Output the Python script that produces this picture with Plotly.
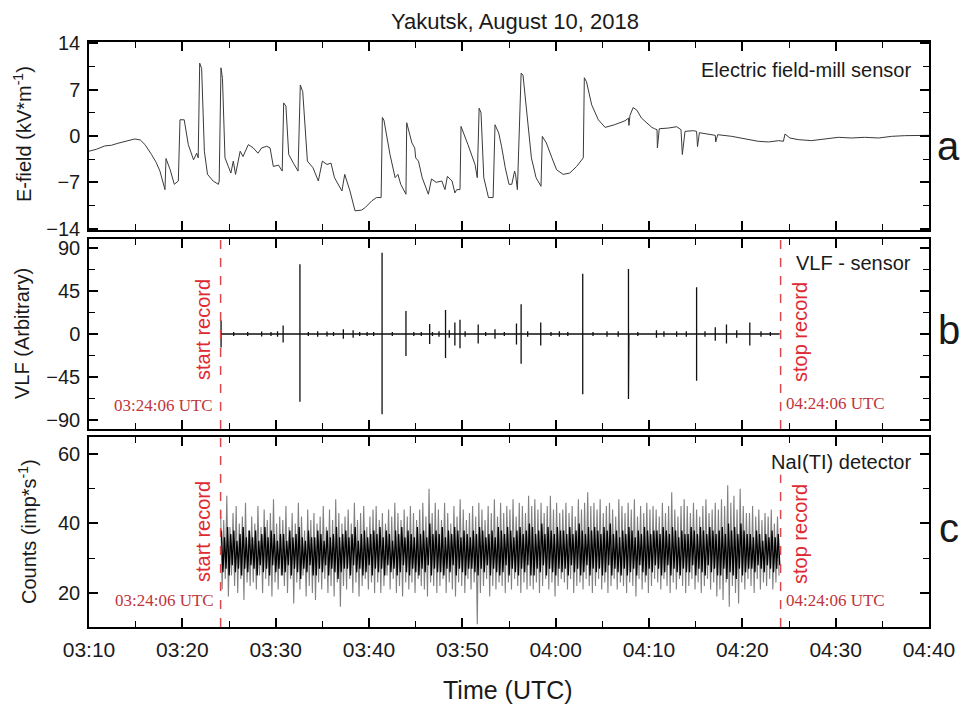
import pandas as pd
import plotly.graph_objects as go

# ---------------- data (minutes after 03:10 UTC) ----------------
efield_min = [0.0, 0.8, 1.7, 2.4, 3.1, 4.0, 4.9, 5.5, 6.0, 6.7, 7.2, 7.6, 8.14, 8.25, 8.7, 9.14, 9.57,
              9.75, 10.2, 10.64, 11.2, 11.54, 11.7, 11.86, 12.07, 12.36, 12.7, 13.3, 13.86, 13.95,
              14.14, 14.3, 14.57, 14.93, 15.2, 15.46, 15.7, 16.2, 16.5, 17.07, 17.6, 18.1, 18.5, 19.04,
              19.4, 19.75, 20.3, 20.7, 20.86, 21.1, 21.4, 21.9, 22.4, 22.64, 22.9, 23.4, 24.0, 24.57,
              25.0, 25.5, 25.93, 26.3, 27.1, 27.4, 27.96, 28.5, 29.2, 29.6, 30.3, 30.8, 31.3, 31.43,
              31.6, 32.25, 32.8, 33.1, 33.4, 33.96, 34.04, 34.6, 34.9, 35.0, 35.3, 35.7, 36.36, 36.7,
              37.2, 37.8, 38.14, 38.4, 38.9, 39.2, 39.4, 39.75, 39.86, 40.6, 41.36, 41.6, 41.8, 42.0,
              42.3, 42.8, 43.3, 43.5, 43.9, 44.2, 44.6, 45.0, 45.3, 45.6, 45.7, 45.9, 46.3, 46.5, 47.0,
              47.4, 47.9, 48.43, 48.57, 49.0, 49.6, 50.1, 50.8, 51.5, 52.25, 52.96, 53.07, 53.3, 53.86,
              54.57, 55.3, 56.3, 57.43, 57.8, 57.85, 57.96, 58.3, 58.7, 59.2, 59.9, 60.3, 60.6, 60.86,
              60.9, 61.1, 62.07, 62.97, 63.43, 63.57, 63.86, 64.75, 65.1, 65.2, 65.4, 66.7, 67.1,
              67.15, 67.36, 68.86, 70.3, 71.7, 72.8, 73.9, 74.4, 74.57, 75.1, 76.0, 77.4, 78.9, 80.3,
              81.7, 83.1, 84.6, 86.0, 87.4, 88.86, 90.0]
efield_val = [-2.3, -2.0, -1.5, -1.4, -1.1, -0.8, -0.45, -0.6, -1.3, -2.8, -4.0, -5.3, -8.1, -3.4, -5.1,
              -7.3, -6.8, 2.45, 2.45, -1.3, -3.6, -2.6, -3.3, 11.0, 10.2, -2.3, -5.8, -6.8, -7.3, -6.8,
              10.3, 8.7, -3.3, -4.6, -5.6, -3.8, -5.8, -2.3, -3.1, -1.3, -1.8, -2.6, -1.8, -1.55,
              -1.8, -4.6, -4.4, -5.3, 5.0, 4.5, -2.8, -4.1, -5.3, 7.7, 6.7, -3.8, -4.8, -6.8,
              -3.8, -4.3, -4.1, -6.3, -8.3, -5.8, -8.3, -11.3, -11.2, -10.8, -9.8, -9.3, -9.3, 2.8,
              2.4, -2.8, -6.3, -5.8, -7.3, -8.8, 2.0, -1.05, -1.8, -3.3, -3.8, -6.3, -8.8, -6.5,
              -7.0, -6.8, -8.1, -6.1, -6.8, -8.6, -8.1, -8.1, 1.45, -1.3, -4.3, -6.3, 4.2, 3.5,
              -6.3, -9.3, -9.3, 1.7, 0.45, -1.55, -4.8, -7.3, -7.3, -5.3, -5.8, -8.1, 9.5, 9.2, 1.7,
              -3.3, -6.3, -7.6, -0.05, -1.05, -3.3, -5.1, -5.8, -5.6, -4.6, -3.3, 8.8, 8.2, 4.7,
              2.45, 1.3, 1.7, 2.3, 2.7, 1.6, 3.1, 4.3, 3.9, 2.7, 1.8, 1.3, 1.1, 0.95,
              -1.8, 1.1, 1.2, 1.4, 0.95, -2.8, 0.7, 0.8, 0.7, -1.6, 0.5, 0.2, 0.1,
              -0.9, 0.2, -0.05, -0.4, -0.8, -0.9, -0.7, -0.8, 0.3, -0.3, -0.55, -0.7, -0.4, -0.2,
              -0.3, -0.2, -0.3, -0.05, 0.05, 0.05, 0.1]

vlf_min = [14.15, 15.5, 17.0, 18.5, 19.5, 20.2, 20.8, 22.6, 23.5, 24.5, 25.5, 26.2, 27.25, 28.3, 29.0,
           29.8, 30.5, 31.4, 32.5, 33.96, 34.8, 35.6, 36.5, 36.8, 37.5, 38.2, 38.6, 39.2, 39.75, 40.3,
           41.7, 42.5, 43.5, 44.5, 45.8, 46.3, 47.0, 48.4, 49.5, 50.4, 51.3, 52.9, 54.0, 55.5, 56.7,
           57.8, 57.85, 58.8, 60.8, 61.6, 62.96, 64.0, 65.1, 66.0, 67.1, 68.3, 69.4, 70.8, 72.0, 73.0]
vlf_top = [14, 2, 2, 2.5, 2, 3, 9, 73, 2, 3, 2.5, 2, 5, 4, 2, 2, 2, 85, 2, 24, 2, 2, 10.5, 2, 3, 25,
           4, 12, 15, 3, 10, 2, 5, 2, 11, 31, 3, 12, 2, 3, 2, 63, 2, 3, 3, 68, 35, 2, 4, 3, 3, 3, 49,
           3, 7, 10, 4, 12, 3, 2]
vlf_bot = [-14, -2, -2, -2.5, -2, -3, -9, -71, -2, -3, -2.5, -2, -5, -4, -2, -2, -2, -84, -2, -23, -2,
           -2, -10.5, -2, -3, -25, -4, -12, -15, -3, -10, -2, -5, -2, -11, -31, -3, -12, -2, -3, -2,
           -63, -2, -3, -3, -68, -35, -2, -4, -3, -3, -3, -49, -3, -7, -10, -4, -12, -3, -2]

# NaI(Tl) counts: 20-second bins from 03:24:06 to 04:24:06 (spread envelope and dense core)
counts_hi = [44, 41, 48, 39, 43, 45, 40, 42, 46, 38,  42, 40, 45, 39, 44, 41, 43, 47, 40, 42,
             41, 45, 39, 43, 40, 46, 42, 38, 44, 41,  43, 40, 42, 45, 39, 44, 41, 47, 43, 40,
             42, 44, 40, 46, 41, 43, 45, 39, 42, 44,  45, 41, 43, 40, 44, 42, 46, 43, 41, 44,
             42, 45, 43, 41, 44, 46, 42, 50, 43, 46,  44, 41, 46, 43, 40, 45, 42, 47, 44, 41,
             43, 45, 42, 46, 44, 41, 45, 43, 47, 42,  46, 43, 45, 44, 47, 42, 46, 45, 43, 48,
             45, 47, 44, 46, 43, 45, 48, 44, 46, 43,  44, 46, 43, 45, 42, 47, 44, 46, 49, 45,
             46, 44, 47, 43, 45, 46, 44, 42, 47, 45,  43, 46, 44, 47, 42, 45, 43, 46, 44, 45,
             44, 42, 46, 43, 45, 49, 44, 42, 45, 47,  45, 43, 46, 44, 42, 45, 47, 43, 44, 46,
             44, 47, 45, 51, 46, 48, 44, 50, 45, 43,  43, 45, 42, 44, 41, 43, 42, 44, 40, 42]
counts_lo = [21, 24, 19, 25, 22, 20, 24, 18, 23, 22,  23, 21, 25, 20, 24, 22, 19, 23, 21, 25,
             22, 20, 24, 17, 23, 21, 25, 19, 22, 20,  18, 23, 21, 24, 20, 22, 19, 23, 16, 22,
             21, 24, 20, 23, 19, 22, 24, 21, 23, 20,  23, 20, 22, 25, 21, 24, 20, 22, 19, 23,
             21, 23, 20, 24, 22, 21, 19, 23, 22, 20,  22, 24, 20, 23, 21, 19, 23, 22, 20, 24,
             21, 23, 11, 20, 22, 24, 19, 22, 21, 23,  22, 20, 23, 21, 24, 22, 20, 23, 21, 22,
             21, 23, 20, 22, 24, 21, 23, 19, 22, 24,  23, 21, 24, 20, 22, 23, 21, 24, 22, 20,
             22, 24, 21, 23, 20, 22, 24, 21, 23, 22,  20, 23, 22, 19, 24, 21, 23, 20, 22, 24,
             23, 21, 24, 22, 20, 23, 21, 24, 22, 20,  22, 24, 21, 23, 20, 22, 24, 21, 23, 19,
             21, 18, 23, 16, 22, 20, 17, 23, 21, 24,  22, 20, 24, 21, 23, 22, 24, 21, 23, 25]
core_hi = [38, 36, 39, 37, 38, 35, 37, 39, 36, 38,  36, 38, 35, 37, 39, 36, 38, 37, 35, 37,
           37, 35, 38, 36, 37, 39, 36, 35, 38, 36,  36, 38, 37, 35, 38, 36, 37, 39, 36, 37,
           38, 36, 37, 39, 35, 37, 38, 36, 37, 38,  37, 39, 36, 38, 37, 35, 38, 37, 39, 36,
           38, 37, 36, 39, 37, 38, 36, 40, 37, 38,  37, 39, 36, 38, 37, 39, 38, 36, 38, 37,
           36, 38, 37, 39, 38, 36, 37, 38, 36, 39,  38, 37, 39, 38, 36, 38, 39, 37, 38, 40,
           39, 37, 38, 40, 37, 39, 38, 37, 39, 38,  38, 37, 39, 37, 38, 40, 38, 37, 39, 38,
           39, 38, 37, 39, 38, 40, 37, 38, 36, 38,  37, 39, 38, 36, 38, 37, 39, 38, 37, 38,
           38, 37, 39, 38, 37, 39, 38, 36, 38, 37,  37, 39, 38, 37, 39, 38, 37, 39, 38, 37,
           38, 39, 37, 40, 38, 39, 37, 40, 38, 37,  37, 36, 38, 37, 35, 37, 36, 38, 36, 37]
core_lo = [26, 27, 25, 28, 26, 27, 25, 27, 26, 28,  27, 25, 28, 26, 27, 25, 28, 26, 27, 25,
           26, 28, 25, 27, 26, 24, 27, 26, 28, 25,  25, 27, 26, 28, 25, 27, 26, 24, 26, 27,
           27, 25, 28, 26, 27, 25, 26, 28, 25, 27,  26, 27, 25, 28, 26, 27, 25, 26, 28, 26,
           25, 27, 26, 25, 27, 26, 28, 25, 27, 26,  26, 25, 27, 26, 28, 25, 27, 26, 25, 27,
           27, 26, 25, 27, 26, 28, 25, 27, 26, 25,  26, 28, 25, 27, 26, 25, 27, 26, 28, 25,
           25, 27, 26, 28, 25, 27, 26, 25, 27, 26,  27, 25, 28, 26, 27, 25, 26, 28, 25, 27,
           26, 27, 25, 26, 28, 25, 27, 26, 25, 27,  25, 26, 27, 25, 28, 26, 25, 27, 26, 28,
           27, 25, 26, 28, 25, 27, 26, 25, 27, 26,  26, 28, 25, 27, 26, 25, 28, 26, 27, 25,
           25, 27, 24, 26, 25, 24, 27, 25, 26, 27,  27, 26, 28, 27, 26, 28, 27, 26, 27, 28]

record_start_min = 14.1   # 03:24:06
record_stop_min = 74.1    # 04:24:06
bin_min = 1.0 / 3.0       # 20 s

# ---------------- helpers ----------------
BASE = pd.Timestamp("2018-08-10 03:10:00")


def tm(m):
    return BASE + pd.Timedelta(minutes=m)


OFF = 8                          # page body margin
W, H = 970 - OFF, 706 - OFF
L, R, T, B = 89, 929, 42, 627    # plot-area edges in window pixels


def px(x):
    return (x - L) / (R - L)


def py(y):
    return (B - y) / (B - T)


fig = go.Figure()

# panel a: E-field
fig.add_trace(go.Scatter(x=[tm(m) for m in efield_min], y=efield_val, mode="lines",
                         line=dict(color="#3a3a3a", width=1), xaxis="x", yaxis="y"))

# panel b: VLF
vx, vy = [tm(record_start_min)], [0]
for t, a, b in zip(vlf_min, vlf_top, vlf_bot):
    vx += [tm(t), tm(t), tm(t), tm(t)]
    vy += [0, a, b, 0]
vx.append(tm(record_stop_min - 0.1))
vy.append(0)
fig.add_trace(go.Scatter(x=vx, y=vy, mode="lines", line=dict(color="#111111", width=1.3),
                         xaxis="x2", yaxis="y2"))

# panel c: counts (spread in gray, core in black)
gx, gy, cx, cy = [], [], [], []
for i in range(len(counts_hi)):
    t0 = record_start_min + i * bin_min
    gx += [tm(t0), tm(t0 + bin_min / 2)]
    gy += [counts_hi[i], counts_lo[i]]
    cx += [tm(t0 + bin_min / 4), tm(t0 + 3 * bin_min / 4)]
    cy += [core_hi[i], core_lo[i]]
fig.add_trace(go.Scatter(x=gx, y=gy, mode="lines", line=dict(color="#808080", width=1.1),
                         xaxis="x3", yaxis="y3"))
fig.add_trace(go.Scatter(x=cx, y=cy, mode="lines", line=dict(color="#000000", width=1.3),
                         xaxis="x3", yaxis="y3"))

# ---------------- axes ----------------
dom_a = [py(230), 1.0]
dom_b = [py(429), py(239)]
dom_c = [0.0, py(437)]

xcommon = dict(type="date", range=[tm(0), tm(90)], tick0=tm(0), dtick=600000, tickformat="%H:%M",
               ticks="inside", ticklen=9, tickwidth=1.5, tickcolor="black",
               minor=dict(dtick=300000, tick0=tm(0), ticks="inside", ticklen=6, tickwidth=1.2,
                          tickcolor="black", showgrid=False),
               showline=True, linecolor="black", linewidth=1.5, mirror="allticks",
               showgrid=False, zeroline=False, domain=[0, 1],
               tickfont=dict(family="Liberation Sans, Arial", size=21, color="#1a1a1a"))
ycommon = dict(ticks="inside", ticklen=9, tickwidth=1.5, tickcolor="black",
               showline=True, linecolor="black", linewidth=1.5, mirror="allticks",
               showgrid=False, zeroline=False,
               tickfont=dict(family="Liberation Sans, Arial", size=20, color="#1a1a1a"),
               ticklabelstandoff=3)

fig.update_layout(
    xaxis=dict(xcommon, anchor="y", showticklabels=False),
    xaxis2=dict(xcommon, anchor="y2", showticklabels=False, matches="x"),
    xaxis3=dict(xcommon, anchor="y3", showticklabels=True, matches="x", ticklabelstandoff=3),
    yaxis=dict(ycommon, domain=dom_a, anchor="x", range=[-14.2, 14.2], tick0=0, dtick=7,
               minor=dict(tick0=0, dtick=3.5, ticks="inside", ticklen=6, tickwidth=1.2,
                          tickcolor="black", showgrid=False)),
    yaxis2=dict(ycommon, domain=dom_b, anchor="x2", range=[-99.4, 99.4], tick0=0, dtick=45,
                minor=dict(tick0=0, dtick=22.5, ticks="inside", ticklen=6, tickwidth=1.2,
                           tickcolor="black", showgrid=False)),
    yaxis3=dict(ycommon, domain=dom_c, anchor="x3", range=[10.2, 64.9], tick0=0, dtick=20,
                minor=dict(tick0=0, dtick=10, ticks="inside", ticklen=6, tickwidth=1.2,
                           tickcolor="black", showgrid=False)),
)

# ---------------- record markers ----------------
red_dash = "#e0474c"
shapes = [
    dict(type="line", xref="x2", yref="y2", x0=tm(record_start_min), x1=tm(record_start_min),
         y0=-99.4, y1=99.4, line=dict(color=red_dash, width=1.5, dash="dash")),
    dict(type="line", xref="x2", yref="y2", x0=tm(record_stop_min), x1=tm(record_stop_min),
         y0=-99.4, y1=99.4, line=dict(color=red_dash, width=1.5, dash="dash")),
    dict(type="line", xref="x3", yref="y3", x0=tm(record_start_min), x1=tm(record_start_min),
         y0=10.2, y1=64.9, line=dict(color=red_dash, width=1.5, dash="dash")),
    dict(type="line", xref="x3", yref="y3", x0=tm(record_stop_min), x1=tm(record_stop_min),
         y0=10.2, y1=54, line=dict(color=red_dash, width=1.5, dash="dash")),
]
fig.update_layout(shapes=shapes)

sans = "Liberation Sans, Arial"
serif = "Liberation Serif, Times New Roman"
ann = []


def add(text, x, y, size, color="#1a1a1a", family=sans, xanchor="center", yanchor="middle", angle=0):
    ann.append(dict(text=text, x=px(x), y=py(y), xref="paper", yref="paper", showarrow=False,
                    xanchor=xanchor, yanchor=yanchor, textangle=angle,
                    font=dict(family=family, size=size, color=color)))


add("Yakutsk, August 10, 2018", 515, 22, 22)
add("Time (UTC)", 508, 690, 25)
add("E-field (kV*m<sup>-1</sup>)", 22, 134, 20, angle=-90)
add("VLF (Arbitrary)", 22, 334, 20, angle=-90)
add("Counts (imp*s<sup>-1</sup>)", 27, 532, 20, angle=-90)
add("Electric field-mill sensor", 913, 70, 20, xanchor="right")
add("VLF - sensor", 913, 263, 20, xanchor="right")
add("NaI(TI) detector", 913, 462, 20, xanchor="right")
add("a", 949, 146, 40)
add("b", 949, 330, 40)
add("c", 949, 528, 40)
for yc in (330, 532):
    add("start record", 203, yc, 20, color="#de2a32", angle=-90)
    add("stop record", 800, yc + 2, 20, color="#de2a32", angle=-90)
add("03:24:06 UTC", 215, 405, 17, color="#c0343c", family=serif, xanchor="right")
add("03:24:06 UTC", 216, 600, 17, color="#c0343c", family=serif, xanchor="right")
add("04:24:06 UTC", 784, 403, 17, color="#c0343c", family=serif, xanchor="left")
add("04:24:06 UTC", 784, 600, 17, color="#c0343c", family=serif, xanchor="left")

fig.update_layout(annotations=ann, width=W, height=H,
                  margin=dict(l=L - OFF, r=970 - R, t=T - OFF, b=H + OFF - B, pad=0),
                  paper_bgcolor="white", plot_bgcolor="white", showlegend=False)

fig.write_html("out.html")
